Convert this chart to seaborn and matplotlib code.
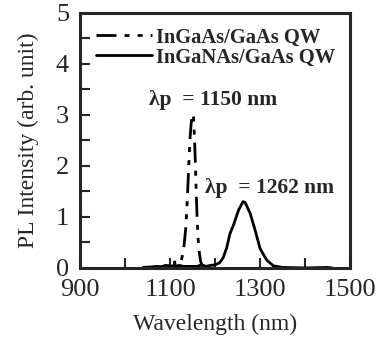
import numpy as np
import pandas as pd
import matplotlib
matplotlib.use('Agg')
import matplotlib.pyplot as plt
from matplotlib.lines import Line2D
import seaborn as sns

# 读出的光谱数据 (波长 nm, PL 强度)
wl_ingaas = [1040, 1060, 1080, 1100, 1110, 1120, 1125, 1130, 1135, 1138, 1141, 1144,
             1147, 1150, 1152, 1154, 1156, 1158, 1160, 1162, 1165, 1168, 1172, 1180, 1200]
pl_ingaas = [0.0, 0.01, 0.02, 0.02, 0.04, 0.08, 0.15, 0.35, 0.8, 1.3, 1.9, 2.5,
             2.85, 3.02, 2.95, 2.6, 2.1, 1.5, 1.0, 0.6, 0.3, 0.12, 0.04, 0.01, 0.0]

wl_ingaNas = [1040, 1060, 1070, 1080, 1090, 1100, 1108, 1110, 1112, 1120, 1130, 1160,
              1170, 1180, 1190, 1200, 1210, 1218, 1226, 1233, 1241, 1252, 1262, 1267,
              1278, 1289, 1300, 1315, 1330, 1350, 1400, 1450, 1460]
pl_ingaNas = [0.01, 0.02, 0.03, 0.02, 0.05, 0.04, 0.03, 0.12, 0.03, 0.05, 0.03, 0.03,
              0.06, 0.03, 0.05, 0.06, 0.1, 0.2, 0.4, 0.67, 0.84, 1.13, 1.3, 1.28,
              1.07, 0.74, 0.38, 0.15, 0.04, 0.01, 0.0, 0.01, 0.0]

labels = ['InGaAs/GaAs QW', 'InGaNAs/GaAs QW']
peak_text = ['λp  = 1150 nm', 'λp  = 1262 nm']
xticks = [900, 1100, 1300, 1500]
yticks = [0, 1, 2, 3, 4, 5]

df = pd.concat([
    pd.DataFrame({'wl': wl_ingaas, 'pl': pl_ingaas, 'sample': labels[0]}),
    pd.DataFrame({'wl': wl_ingaNas, 'pl': pl_ingaNas, 'sample': labels[1]}),
])

sns.set_style('ticks')
plt.rcParams['font.family'] = ['Liberation Serif', 'DejaVu Serif']

# 长划 + 两个短划
dash_pat = (7.2, 2.9, 1.8, 2.9, 1.8, 2.9)

fig = plt.figure(figsize=(3.78, 3.4), dpi=100)
ax = fig.add_axes([0.212, 0.212, 0.714, 0.75])

sns.lineplot(data=df, x='wl', y='pl', style='sample', color='black',
             dashes={labels[0]: dash_pat, labels[1]: ''},
             linewidth=2, sort=False, estimator=None, ax=ax, legend=False)

ax.set_xlim(900, 1500)
ax.set_ylim(0, 5)
ax.set_xticks(xticks)
ax.set_xticks(range(900, 1501, 100), minor=True)
ax.set_yticks(yticks)
ax.set_yticks(np.arange(0, 5.01, 0.5), minor=True)
ax.tick_params(which='both', direction='in', length=7, width=1.5, labelsize=19,
               top=False, right=False)
ax.tick_params(axis='x', pad=8)
ax.tick_params(axis='y', pad=8)
for s in ax.spines.values():
    s.set_linewidth(2.2)
    s.set_visible(True)

ax.set_xlabel('Wavelength (nm)', fontsize=17, labelpad=9)
ax.set_ylabel('PL Intensity (arb. unit)', fontsize=17, labelpad=12)

handles = [Line2D([], [], color='black', lw=2, dashes=dash_pat),
           Line2D([], [], color='black', lw=2)]
ax.legend(handles, labels, loc='upper left', bbox_to_anchor=(0.03, 0.975),
          frameon=False, handlelength=2.7, handletextpad=0.2, labelspacing=0.0,
          borderaxespad=0, prop={'weight': 'bold', 'size': 14.8})

ax.text(1196, 3.3, peak_text[0], ha='center', va='center', fontsize=15.5,
        fontweight='bold')
ax.text(1321, 1.57, peak_text[1], ha='center', va='center', fontsize=15.5,
        fontweight='bold')

fig.savefig('out.png', dpi=100)
